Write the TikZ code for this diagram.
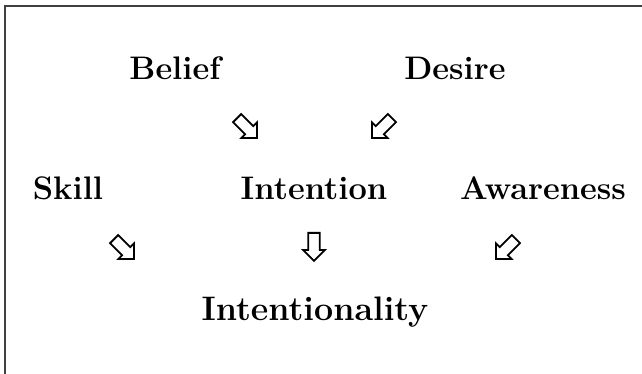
\documentclass[tikz,border=0pt]{standalone}
\usepackage{tikz}
\usetikzlibrary{shapes.arrows}

\begin{document}
\begin{tikzpicture}[
      x=0.5pt, y=-0.5pt,
      term/.style={font=\fontsize{16.3}{19}\selectfont\bfseries, inner sep=0pt},
      hollow/.style={single arrow, draw, line width=0.9pt, fill=white, inner sep=2.4pt,
        minimum height=14pt, single arrow head extend=2.6pt, single arrow head indent=0pt},
    ]
    \useasboundingbox (0,0) rectangle (642,374);
    \draw[line width=1pt, black!75] (5,374) -- (5,6) -- (642,6);
    % terms
    \node[term] (belief) at (175,68) {Belief};
    \node[term] (desire) at (455,68) {Desire};
    \node[term] (skill) at (68,188) {Skill};
    \node[term] (intention) at (314,188) {Intention};
    \node[term] (aware) at (543,188) {Awareness};
    \node[term, font=\fontsize{17}{20}\selectfont\bfseries] (result) at (315,312) {Intentionality};
    % hollow arrows
    \node[hollow, rotate=-45] (a1) at (245,126) {};
    \node[hollow, rotate=-135] (a2) at (384,126) {};
    \node[hollow, rotate=-45] (a3) at (122,247) {};
    \node[hollow, rotate=-90] (a4) at (314,244) {};
    \node[hollow, rotate=-135] (a5) at (508,247) {};
  \end{tikzpicture}
\end{document}
